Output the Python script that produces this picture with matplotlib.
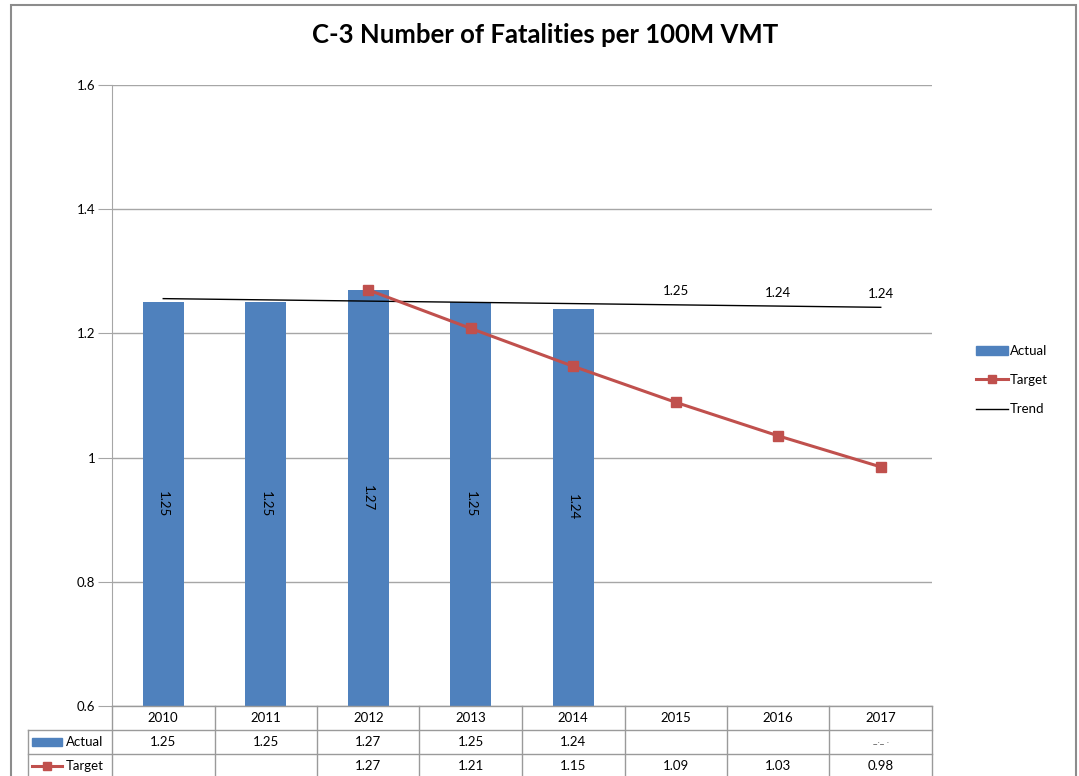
import numpy as np
import matplotlib.pyplot as plt
from matplotlib.patches import Rectangle
from matplotlib.lines import Line2D

plt.rcParams['font.family'] = ['Lato', 'DejaVu Sans']

years = ['2010', '2011', '2012', '2013', '2014', '2015', '2016', '2017']
actual = [1.25, 1.25, 1.27, 1.25, 1.24]
target_years = [2, 3, 4, 5, 6, 7]
target = [1.27, 1.208, 1.147, 1.089, 1.035, 0.985]
trend = [1.256, 1.254, 1.252, 1.250, 1.248, 1.246, 1.244, 1.242]
actual_labels = ['1.25', '1.25', '1.27', '1.25', '1.24', '', '', '']
target_labels = ['', '', '1.27', '1.21', '1.15', '1.09', '1.03', '0.98']
trend_labels = {5: '1.25', 6: '1.24', 7: '1.24'}

blue = '#4F81BD'
red = '#C0504D'
grid = '#A6A6A6'
fs = 9.5

W, H = 1079, 776
fig = plt.figure(figsize=(W / 100, H / 100), dpi=100)

# outer chart frame
fig.add_artist(Rectangle((11 / W, -0.01), (1076 - 11) / W, 1 - 5 / H + 0.01,
                         transform=fig.transFigure, fill=False,
                         edgecolor='#8C8C8C', lw=1.5))

x0, x1, ytop, ybot = 112, 932, 85, 706
ax = fig.add_axes([x0 / W, 1 - ybot / H, (x1 - x0) / W, (ybot - ytop) / H])
ax.set_xlim(-0.5, 7.5)
ax.set_ylim(0.6, 1.6)

x = np.arange(len(years))
ax.bar(x[:len(actual)], [a - 0.6 for a in actual], bottom=0.6, width=0.4,
       color=blue, zorder=2, label='Actual')
for i, a in enumerate(actual):
    ax.text(i, (a + 0.6) / 2, actual_labels[i], rotation=270, ha='center',
            va='center', fontsize=fs)

ax.plot(target_years, target, color=red, lw=2.2, marker='s', ms=7, zorder=4,
        label='Target')
ax.plot(x, trend, color='black', lw=1, zorder=3, label='Trend')
for i, t in trend_labels.items():
    ax.text(i, trend[i] + 0.012, t, ha='center', va='bottom', fontsize=fs)

ax.set_yticks([0.6, 0.8, 1.0, 1.2, 1.4, 1.6])
ax.set_yticklabels(['0.6', '0.8', '1', '1.2', '1.4', '1.6'], fontsize=fs)
ax.set_xticks([])
ax.yaxis.grid(True, color=grid, lw=1, zorder=0)
for s in ['top', 'right', 'bottom']:
    ax.spines[s].set_visible(False)
ax.spines['left'].set_color(grid)
ax.tick_params(axis='y', length=10, color=grid, pad=2)

fig.text(545 / W, 1 - 35 / H, 'C-3 Number of Fatalities per 100M VMT',
         ha='center', va='center', fontsize=18.5, fontweight='bold')

# legend
handles = [Rectangle((0, 0), 1, 1, color=blue),
           Line2D([], [], color=red, lw=2.2, marker='s', ms=6),
           Line2D([], [], color='black', lw=1)]
fig.legend(handles, ['Actual', 'Target', 'Trend'], loc='center left',
           bbox_to_anchor=(964 / W, 1 - 380 / H), frameon=False, fontsize=fs,
           handlelength=2.4, labelspacing=1.3, handletextpad=0.2)

# data table
row_h = 24
tb = fig.add_axes([x0 / W, 1 - (ybot + 3 * row_h) / H, (x1 - x0) / W, 3 * row_h / H])
tb.set_xlim(-0.5, 7.5)
tb.set_ylim(3, 0)
tb.axis('off')
left = -0.5 - (x0 - 28) / 102.5
lc = '#9A9A9A'
for r in [0, 1, 2, 3]:
    xs = -0.5 if r == 0 else left
    tb.plot([xs, 7.5], [r, r], color=lc, lw=1, clip_on=False)
for c in range(9):
    tb.plot([c - 0.5, c - 0.5], [0, 3], color=lc, lw=1, clip_on=False)
tb.plot([left, left], [1, 3], color=lc, lw=1, clip_on=False)
for i, yr in enumerate(years):
    tb.text(i, 0.5, yr, ha='center', va='center', fontsize=fs)
    tb.text(i, 1.5, actual_labels[i], ha='center', va='center', fontsize=fs)
    tb.text(i, 2.5, target_labels[i], ha='center', va='center', fontsize=fs)
tb.text(7, 1.45, '_._ .', ha='center', va='center', fontsize=7, color='#555555')

kx = left + 4 / 102.5
tb.add_patch(Rectangle((kx, 1.35), 30 / 102.5, 0.3, color=blue, clip_on=False))
tb.text(kx + 34 / 102.5, 1.5, 'Actual', ha='left', va='center', fontsize=fs)
tb.plot([kx, kx + 30 / 102.5], [2.5, 2.5], color=red, lw=2.2, clip_on=False)
tb.plot([kx + 15 / 102.5], [2.5], color=red, marker='s', ms=6, clip_on=False)
tb.text(kx + 34 / 102.5, 2.5, 'Target', ha='left', va='center', fontsize=fs)

fig.savefig('out.png', dpi=100)
